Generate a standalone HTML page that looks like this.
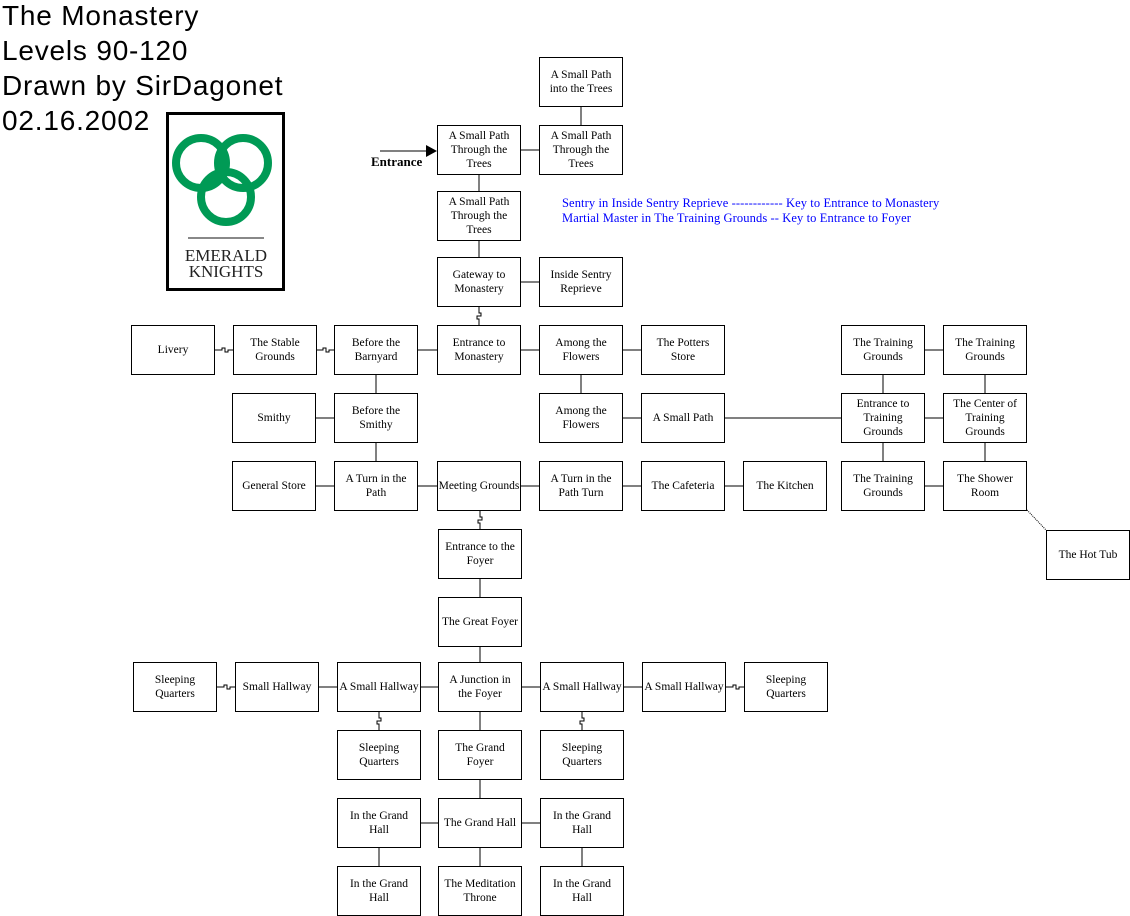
<!DOCTYPE html>
<html><head><meta charset="utf-8"><style>
body{margin:0;width:1130px;height:916px;background:#fff;position:relative;overflow:hidden;font-family:"Liberation Serif",serif;}
.b{position:absolute;box-sizing:border-box;width:84px;height:50px;border:1px solid #000;background:#fff;display:flex;align-items:center;justify-content:center;text-align:center;font-size:11.5px;line-height:14px;color:#000;}
.t{position:absolute;left:2px;font-family:"Liberation Sans",sans-serif;font-size:28px;color:#000;white-space:nowrap;letter-spacing:0.8px}
.k{position:absolute;left:562px;color:#00f;font-size:12.5px;white-space:nowrap;letter-spacing:0.1px}
svg{position:absolute;left:0;top:0}
</style></head><body>
<svg width="1130" height="916">
<g stroke="#000" stroke-width="1" fill="none">
<path d="M479 175V191M479 241V257M581 107V125M521 150H539M521 282H539"/>
<path d="M418 350H437M521 350H539M623 350H641M925 350H943"/>
<path d="M376 375V393M581 375V393M883 375V393M985 375V393"/>
<path d="M316 418H334M623 418H841M925 418H943"/>
<path d="M376 443V461M883 443V461M985 443V461"/>
<path d="M316 486H334M418 486H437M521 486H539M623 486H641M725 486H743M925 486H943"/>
<path d="M480 579V597M480 647V662M319 687H337M421 687H438M522 687H540M624 687H642M480 712V730M480 780V798M421 823H438M522 823H540M379 848V866M480 848V866M582 848V866"/>
<path d="M1027 510L1046 530" stroke-dasharray="1,1"/>
<path d="M215 350H222v-2h3v4h3v-2H233"/>
<path d="M317 350H323v-2h3v4h3v-2H334"/>
<path d="M217 687H224v-2h3v4h3v-2H235"/>
<path d="M726 687H733v-2h3v4h3v-2H744"/>
<path d="M479 307V313h2v3h-4v3h2V325"/>
<path d="M480 511V517h2v3h-4v3h2V529"/>
<path d="M379 712V718h2v3h-4v3h2V730"/>
<path d="M582 712V718h2v3h-4v3h2V730"/>
<path d="M380 151H428"/>
</g>
<path d="M426 145L437 151L426 157Z" fill="#000"/>
<rect x="167.5" y="113.5" width="116" height="176" fill="#fff" stroke="#000" stroke-width="3"/>
<g fill="none" stroke="#009a55" stroke-width="8">
<circle cx="201" cy="163" r="25"/>
<circle cx="243" cy="163" r="25"/>
<circle cx="226" cy="197" r="25"/>
</g>
<rect x="188" y="237" width="76" height="2" fill="#888"/>
<text x="226" y="261" font-family="Liberation Serif" font-size="17" text-anchor="middle" fill="#222">EMERALD</text>
<text x="226" y="277" font-family="Liberation Serif" font-size="17" text-anchor="middle" fill="#222">KNIGHTS</text>
<text x="371" y="166" font-family="Liberation Serif" font-size="13" font-weight="bold" fill="#000">Entrance</text>
<text x="1011" y="439" font-family="Liberation Serif" font-size="12" fill="#f00">PK</text>
</svg>
<div class="t" style="top:0px">The Monastery</div>
<div class="t" style="top:35px">Levels 90-120</div>
<div class="t" style="top:70px">Drawn by SirDagonet</div>
<div class="t" style="top:105px">02.16.2002</div>
<div class="k" style="top:196px">Sentry in Inside Sentry Reprieve ------------ Key to Entrance to Monastery</div>
<div class="k" style="top:211px">Martial Master in The Training Grounds -- Key to Entrance to Foyer</div>

<div class="b" style="left:539px;top:57px">A Small Path<br>into the Trees</div>
<div class="b" style="left:437px;top:125px">A Small Path<br>Through the<br>Trees</div>
<div class="b" style="left:539px;top:125px">A Small Path<br>Through the<br>Trees</div>
<div class="b" style="left:437px;top:191px">A Small Path<br>Through the<br>Trees</div>
<div class="b" style="left:437px;top:257px">Gateway to<br>Monastery</div>
<div class="b" style="left:539px;top:257px">Inside Sentry<br>Reprieve</div>

<div class="b" style="left:131px;top:325px">Livery</div>
<div class="b" style="left:233px;top:325px">The Stable<br>Grounds</div>
<div class="b" style="left:334px;top:325px">Before the<br>Barnyard</div>
<div class="b" style="left:437px;top:325px">Entrance to<br>Monastery</div>
<div class="b" style="left:539px;top:325px">Among the<br>Flowers</div>
<div class="b" style="left:641px;top:325px">The Potters<br>Store</div>
<div class="b" style="left:841px;top:325px">The Training<br>Grounds</div>
<div class="b" style="left:943px;top:325px">The Training<br>Grounds</div>

<div class="b" style="left:232px;top:393px">Smithy</div>
<div class="b" style="left:334px;top:393px">Before the<br>Smithy</div>
<div class="b" style="left:539px;top:393px">Among the<br>Flowers</div>
<div class="b" style="left:641px;top:393px">A Small Path</div>
<div class="b" style="left:841px;top:393px">Entrance to<br>Training<br>Grounds</div>
<div class="b" style="left:943px;top:393px">The Center of<br>Training<br>Grounds</div>

<div class="b" style="left:232px;top:461px">General Store</div>
<div class="b" style="left:334px;top:461px">A Turn in the<br>Path</div>
<div class="b" style="left:437px;top:461px">Meeting Grounds</div>
<div class="b" style="left:539px;top:461px">A Turn in the<br>Path Turn</div>
<div class="b" style="left:641px;top:461px">The Cafeteria</div>
<div class="b" style="left:743px;top:461px">The Kitchen</div>
<div class="b" style="left:841px;top:461px">The Training<br>Grounds</div>
<div class="b" style="left:943px;top:461px">The Shower<br>Room</div>
<div class="b" style="left:1046px;top:530px">The Hot Tub</div>

<div class="b" style="left:438px;top:529px">Entrance to the<br>Foyer</div>
<div class="b" style="left:438px;top:597px">The Great Foyer</div>

<div class="b" style="left:133px;top:662px">Sleeping<br>Quarters</div>
<div class="b" style="left:235px;top:662px">Small Hallway</div>
<div class="b" style="left:337px;top:662px">A Small Hallway</div>
<div class="b" style="left:438px;top:662px">A Junction in<br>the Foyer</div>
<div class="b" style="left:540px;top:662px">A Small Hallway</div>
<div class="b" style="left:642px;top:662px">A Small Hallway</div>
<div class="b" style="left:744px;top:662px">Sleeping<br>Quarters</div>

<div class="b" style="left:337px;top:730px">Sleeping<br>Quarters</div>
<div class="b" style="left:438px;top:730px">The Grand<br>Foyer</div>
<div class="b" style="left:540px;top:730px">Sleeping<br>Quarters</div>

<div class="b" style="left:337px;top:798px">In the Grand<br>Hall</div>
<div class="b" style="left:438px;top:798px">The Grand Hall</div>
<div class="b" style="left:540px;top:798px">In the Grand<br>Hall</div>

<div class="b" style="left:337px;top:866px">In the Grand<br>Hall</div>
<div class="b" style="left:438px;top:866px">The Meditation<br>Throne</div>
<div class="b" style="left:540px;top:866px">In the Grand<br>Hall</div>
</body></html>
